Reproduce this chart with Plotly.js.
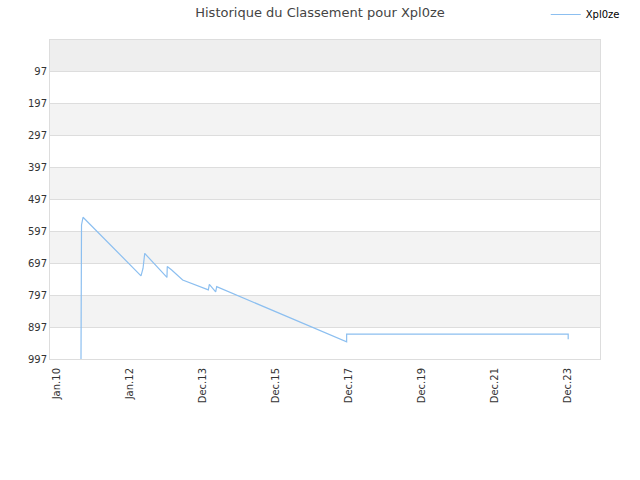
<!DOCTYPE html>
<html>
<head>
<meta charset="utf-8">
<script src="https://cdn.plot.ly/plotly-3.0.1.min.js"></script>
<style>html,body{margin:0;padding:0;background:#fff;}#chart{width:640px;height:480px;}</style>
</head>
<body>
<div id="chart"></div>
<script>
// Data
const dates = [
  '2010-09-05','2010-09-05','2010-09-10','2010-09-25',
  '2012-04-23','2012-05-13','2012-05-30',
  '2013-01-06','2013-01-09','2013-02-22','2013-06-11',
  '2014-02-21','2014-03-03','2014-05-05','2014-05-15',
  '2017-11-26','2017-11-26','2023-12-06','2023-12-06'
];
const ranks = [
  997, 600, 578, 554,
  737, 714, 667,
  742, 708, 719, 750,
  781, 764, 787, 771,
  943, 919, 919, 935
];
const yTicks = [97,197,297,397,497,597,697,797,897,997];
const xTickDates = ['2010-01-10','2012-01-05','2013-12-30','2015-12-25','2017-12-19','2019-12-14','2021-12-08','2023-12-03'];
const xTickLabels = ['Jan.10','Jan.12','Dec.13','Dec.15','Dec.17','Dec.19','Dec.21','Dec.23'];
const seriesName = 'Xpl0ze';

// alternating bands
const shapes = [];
shapes.push({type:'rect', xref:'paper', yref:'y', x0:0, x1:1, y0:0, y1:yTicks[0], fillcolor:'#eeeeee', line:{width:0}, layer:'below'});
for (let i = 0; i < yTicks.length - 1; i++) {
  if (i % 2 === 1) {
    shapes.push({type:'rect', xref:'paper', yref:'y', x0:0, x1:1, y0:yTicks[i], y1:yTicks[i+1], fillcolor:'#f3f3f3', line:{width:0}, layer:'below'});
  }
}

const trace = {
  x: dates, y: ranks, type:'scatter', mode:'lines', name: seriesName,
  line:{color:'#8cbff0', width:1.2}
};

const layout = {
  width:640, height:480,
  margin:{l:50, r:40, t:40, b:121, autoexpand:false},
  paper_bgcolor:'#ffffff', plot_bgcolor:'#ffffff',
  font:{family:'DejaVu Sans, sans-serif', size:10, color:'#333'},
  title:{text:'Historique du Classement pour Xpl0ze', x:0.5, xanchor:'center', y:0.975, yanchor:'middle', font:{size:13, color:'#444'}},
  showlegend:true,
  legend:{x:1.045, xanchor:'right', y:1.08, yanchor:'middle', orientation:'h', itemwidth:30, font:{size:10, color:'#000'}, bgcolor:'rgba(0,0,0,0)'},
  xaxis:{
    type:'date', range:['2009-11-01','2024-10-17'],
    tickmode:'array', tickvals:xTickDates, ticktext:xTickLabels, tickangle:-90,
    showgrid:false, zeroline:false, showline:true, linecolor:'#dddddd', mirror:true,
    ticks:'outside', ticklen:4, tickcolor:'rgba(0,0,0,0)', tickfont:{size:10, color:'#333'}
  },
  yaxis:{
    range:[997, 0], tickmode:'array', tickvals:yTicks,
    showgrid:true, gridcolor:'#dddddd', zeroline:false, showline:true, linecolor:'#dddddd', mirror:true,
    ticks:'', tickfont:{size:10, color:'#333'}
  },
  shapes: shapes
};

Plotly.newPlot('chart', [trace], layout, {displayModeBar:false, staticPlot:true});
</script>
</body>
</html>
